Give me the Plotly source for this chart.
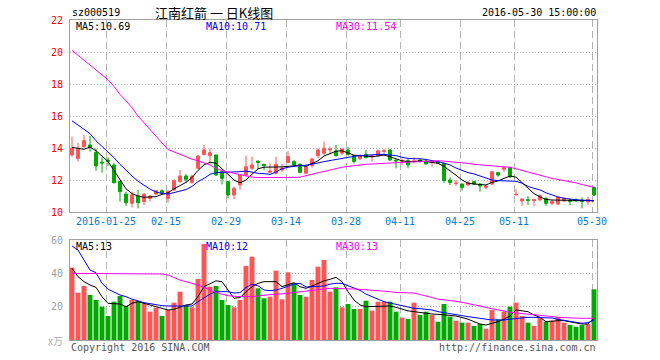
import plotly.graph_objects as go

# ---------------- data ----------------
dates = [
    "2016-01-15", "2016-01-18", "2016-01-19", "2016-01-20", "2016-01-21", "2016-01-22",
    "2016-01-25", "2016-01-26", "2016-01-27", "2016-01-28", "2016-01-29",
    "2016-02-01", "2016-02-02", "2016-02-03", "2016-02-04", "2016-02-05",
    "2016-02-15", "2016-02-16", "2016-02-17", "2016-02-18", "2016-02-19",
    "2016-02-22", "2016-02-23", "2016-02-24", "2016-02-25", "2016-02-26", "2016-02-29",
    "2016-03-01", "2016-03-02", "2016-03-03", "2016-03-04",
    "2016-03-07", "2016-03-08", "2016-03-09", "2016-03-10", "2016-03-11",
    "2016-03-14", "2016-03-15", "2016-03-16", "2016-03-17", "2016-03-18",
    "2016-03-21", "2016-03-22", "2016-03-23", "2016-03-24", "2016-03-25",
    "2016-03-28", "2016-03-29", "2016-03-30", "2016-03-31", "2016-04-01",
    "2016-04-05", "2016-04-06", "2016-04-07", "2016-04-08",
    "2016-04-11", "2016-04-12", "2016-04-13", "2016-04-14", "2016-04-15",
    "2016-04-18", "2016-04-19", "2016-04-20", "2016-04-21", "2016-04-22",
    "2016-04-25", "2016-04-26", "2016-04-27", "2016-04-28", "2016-04-29",
    "2016-05-03", "2016-05-04", "2016-05-05", "2016-05-06",
    "2016-05-11", "2016-05-12", "2016-05-13",
    "2016-05-16", "2016-05-17", "2016-05-18", "2016-05-19", "2016-05-20",
    "2016-05-23", "2016-05-24", "2016-05-25", "2016-05-26", "2016-05-27",
    "2016-05-30",
]

opens = [13.56, 13.35, 14.08, 14.19, 13.73, 13.12, 13.25, 12.94, 11.90, 11.12,
         10.54, 11.00, 10.65, 10.85, 11.12, 11.33, 10.85, 11.38, 11.90, 12.25,
         11.85, 12.73, 13.60, 13.52, 13.56, 12.52, 11.90, 11.06, 11.69, 12.31,
         12.73, 13.19, 12.98, 12.48, 12.42, 12.62, 13.10, 13.15, 12.98, 12.42,
         12.90, 13.52, 13.67, 13.88, 13.81, 13.67, 13.88, 13.52, 13.35, 13.60,
         13.44, 13.52, 13.79, 13.88, 13.23, 13.17, 13.21, 13.17, 13.25, 13.19,
         13.10, 13.15, 13.04, 12.00, 11.79, 11.75, 11.69, 11.90, 11.75, 11.54,
         11.75, 12.46, 12.67, 12.77, 11.06, 10.69, 10.77, 10.71, 10.75, 10.85,
         10.54, 10.50, 10.69, 10.75, 10.79, 10.75, 10.65, 11.54]

highs = [14.71, 14.33, 14.81, 14.75, 13.98, 13.42, 13.42, 13.08, 11.96, 11.27,
         11.27, 11.38, 11.17, 11.06, 11.38, 11.42, 11.38, 12.04, 12.62, 12.38,
         12.33, 13.56, 14.19, 13.98, 13.60, 12.56, 11.94, 11.58, 12.35, 13.52,
         13.46, 13.19, 12.98, 13.04, 13.46, 13.00, 13.81, 13.25, 13.04, 12.90,
         13.40, 13.98, 14.40, 14.08, 14.19, 13.98, 14.08, 13.56, 13.60, 13.88,
         13.56, 13.88, 13.94, 13.94, 13.31, 13.35, 13.35, 13.42, 13.29, 13.25,
         13.23, 13.19, 13.08, 12.17, 12.00, 11.79, 11.94, 11.96, 11.79, 11.69,
         12.52, 12.52, 12.83, 12.83, 11.42, 10.85, 11.00, 10.81, 11.10, 10.92,
         10.75, 10.96, 10.90, 10.85, 10.83, 10.92, 10.96, 11.58]

lows = [13.46, 13.15, 13.98, 13.77, 12.58, 12.46, 12.88, 11.79, 10.65, 10.38,
        10.29, 10.23, 10.44, 10.65, 11.06, 11.12, 10.58, 11.33, 11.83, 11.83,
        11.77, 12.67, 13.52, 13.04, 12.27, 11.73, 10.85, 10.81, 11.38, 12.21,
        12.62, 12.67, 12.62, 12.42, 12.35, 12.52, 13.04, 12.83, 12.42, 12.35,
        12.77, 13.35, 13.56, 13.60, 13.46, 13.56, 13.52, 13.04, 13.25, 13.35,
        13.15, 13.46, 13.52, 13.19, 12.73, 12.94, 12.73, 13.04, 13.10, 12.98,
        12.83, 12.98, 11.83, 11.69, 11.62, 11.33, 11.62, 11.70, 11.27, 11.42,
        11.69, 12.20, 12.52, 12.10, 11.06, 10.38, 10.44, 10.38, 10.71, 10.38,
        10.44, 10.44, 10.65, 10.44, 10.62, 10.23, 10.44, 11.00]

closes = [13.98, 13.92, 14.46, 14.08, 12.88, 13.06, 13.17, 11.83, 11.27, 10.58,
          11.06, 10.58, 11.12, 11.00, 11.33, 11.17, 11.27, 11.96, 12.25, 12.04,
          12.23, 13.50, 13.88, 13.71, 12.31, 12.10, 11.06, 11.48, 12.31, 12.83,
          12.94, 13.10, 12.90, 12.56, 12.98, 12.73, 13.46, 12.94, 12.48, 12.83,
          13.31, 13.88, 13.98, 13.92, 13.52, 13.94, 13.60, 13.15, 13.52, 13.40,
          13.52, 13.83, 13.83, 13.25, 13.19, 13.21, 12.94, 13.19, 13.15, 13.00,
          13.17, 13.04, 11.96, 11.85, 11.81, 11.54, 11.83, 11.75, 11.62, 11.62,
          12.52, 12.31, 12.77, 12.21, 11.10, 10.81, 10.73, 10.79, 11.02, 10.54,
          10.65, 10.92, 10.85, 10.65, 10.69, 10.65, 10.79, 11.06]

ma5 = [14.04, 13.98, 13.92, 14.06, 13.83, 13.50, 13.15, 12.60, 12.05, 11.45,
       11.15, 11.00, 10.92, 10.92, 10.96, 11.10, 11.20, 11.45, 11.65, 11.85,
       12.15, 12.60, 12.95, 13.10, 13.05, 12.70, 12.30, 12.00, 11.83, 12.00,
       12.35, 12.70, 12.80, 12.80, 12.80, 12.82, 12.85, 12.90, 12.92, 12.85,
       13.00, 13.20, 13.50, 13.65, 13.80, 13.83, 13.70, 13.55, 13.52, 13.50,
       13.46, 13.50, 13.56, 13.45, 13.30, 13.20, 13.15, 13.15, 13.20, 13.15,
       13.10, 13.05, 12.85, 12.60, 12.30, 12.00, 11.80, 11.75, 11.72, 11.69,
       11.85, 11.94, 12.10, 12.25, 12.18, 11.85, 11.50, 11.15, 10.95, 10.78,
       10.75, 10.75, 10.75, 10.75, 10.74, 10.72, 10.71, 10.69]

ma10 = [15.70, 15.45, 15.15, 14.90, 14.45, 14.10, 13.75, 13.40, 12.98, 12.60,
        12.25, 11.92, 11.65, 11.43, 11.25, 11.16, 11.12, 11.20, 11.30, 11.40,
        11.60, 11.90, 12.10, 12.35, 12.46, 12.47, 12.47, 12.48, 12.52, 12.56,
        12.48, 12.42, 12.40, 12.35, 12.50, 12.70, 12.80, 12.87, 12.90, 12.93,
        12.98, 13.06, 13.15, 13.22, 13.30, 13.38, 13.43, 13.48, 13.52, 13.56,
        13.60, 13.60, 13.60, 13.58, 13.52, 13.42, 13.35, 13.33, 13.33, 13.28,
        13.22, 13.15, 13.05, 12.94, 12.75, 12.60, 12.46, 12.38, 12.25, 12.10,
        12.00, 11.96, 11.95, 11.94, 11.92, 11.80, 11.60, 11.48, 11.38, 11.20,
        11.05, 10.94, 10.86, 10.79, 10.76, 10.74, 10.72, 10.71]

ma30 = [20.10, 19.80, 19.50, 19.20, 18.90, 18.60, 18.27, 17.85, 17.35, 16.95,
        16.52, 16.00, 15.58, 15.15, 14.72, 14.28, 13.90, 13.76, 13.60, 13.45,
        13.30, 13.20, 13.08, 12.94, 12.72, 12.58, 12.50, 12.42, 12.35, 12.25,
        12.18, 12.15, 12.15, 12.15, 12.15, 12.15, 12.15, 12.15, 12.17, 12.27,
        12.38, 12.45, 12.53, 12.62, 12.72, 12.80, 12.85, 12.90, 12.94, 12.98,
        13.00, 13.03, 13.05, 13.06, 13.08, 13.10, 13.12, 13.15, 13.18, 13.20,
        13.20, 13.20, 13.18, 13.15, 13.12, 13.08, 13.04, 12.98, 12.94, 12.90,
        12.87, 12.84, 12.82, 12.80, 12.70, 12.58, 12.48, 12.38, 12.28, 12.20,
        12.10, 12.03, 11.97, 11.90, 11.82, 11.72, 11.62, 11.54]

volumes = [43.4, 28.4, 32.4, 27.0, 24.0, 20.0, 14.4, 23.0, 26.4, 20.4,
           24.0, 23.4, 22.0, 17.0, 19.4, 14.4, 18.0, 22.4, 29.0, 21.0,
           19.6, 36.6, 57.6, 32.0, 32.4, 24.0, 21.0, 19.6, 24.0, 44.4,
           50.0, 31.0, 25.0, 26.0, 41.6, 24.4, 40.6, 34.0, 27.0, 26.0,
           36.0, 44.0, 48.0, 29.0, 31.6, 19.6, 21.6, 18.6, 18.6, 23.6,
           17.6, 23.0, 23.0, 23.0, 17.0, 13.4, 12.6, 22.4, 15.0, 17.0,
           15.0, 11.0, 21.6, 14.0, 11.6, 10.4, 10.4, 8.4, 9.6, 6.8,
           18.0, 12.4, 17.0, 20.0, 22.4, 14.4, 10.4, 8.4, 13.6, 11.0,
           11.6, 13.6, 10.4, 9.0, 8.0, 9.0, 9.6, 30.4]

vma5 = [43.0, 38.0, 35.0, 33.0, 31.6, 26.0, 22.0, 21.6, 21.6, 20.0,
        22.0, 23.0, 22.0, 20.8, 20.2, 19.0, 18.0, 18.4, 19.6, 21.0,
        21.6, 26.0, 32.0, 34.0, 35.5, 35.0, 30.0, 25.0, 25.5, 29.0,
        32.0, 34.0, 35.0, 35.0, 35.0, 32.0, 33.0, 34.4, 32.0, 31.0,
        32.4, 34.0, 35.5, 36.4, 37.6, 35.0, 29.0, 24.0, 21.0, 20.0,
        20.0, 20.4, 20.4, 20.4, 19.6, 18.6, 17.5, 17.0, 16.4, 16.0,
        15.6, 15.4, 15.0, 14.8, 14.4, 13.5, 12.5, 11.0, 9.6, 9.0,
        10.0, 11.0, 12.5, 14.4, 18.0, 17.5, 17.0, 15.0, 13.6, 11.0,
        11.4, 11.6, 11.6, 11.0, 10.0, 9.6, 9.6, 13.0]

vma10 = [56.4, 54.0, 48.0, 42.0, 40.4, 34.0, 30.5, 28.5, 27.0, 26.0,
         24.5, 23.5, 22.4, 21.8, 21.0, 20.6, 20.4, 20.4, 20.4, 20.4,
         20.4, 23.0, 25.5, 27.5, 29.0, 29.0, 29.0, 28.2, 28.4, 31.5,
         33.5, 32.5, 30.0, 29.6, 30.0, 31.0, 32.5, 33.6, 34.0, 31.8,
         32.0, 32.2, 32.4, 33.5, 34.0, 34.0, 32.5, 31.0, 29.8, 27.5,
         26.0, 24.5, 23.0, 22.2, 21.3, 20.5, 19.5, 19.0, 18.8, 18.4,
         18.0, 17.0, 16.5, 15.8, 15.2, 14.6, 14.0, 13.5, 13.0, 12.5,
         12.0, 12.0, 12.0, 12.5, 13.0, 13.3, 13.6, 13.6, 13.6, 13.6,
         13.2, 12.4, 11.8, 11.0, 10.6, 10.0, 10.4, 12.0]

vma30 = [40.0, 40.0, 40.0, 40.0, 40.0, 40.0, 39.8, 39.8, 39.8, 39.8,
         39.8, 39.8, 39.8, 39.8, 39.8, 39.6, 39.0, 37.5, 36.0, 35.0,
         34.0, 33.0, 31.5, 30.0, 28.5, 27.5, 26.6, 26.2, 26.0, 26.0,
         26.0, 26.4, 27.0, 27.2, 27.4, 27.6, 28.0, 28.5, 29.0, 29.4,
         30.0, 30.3, 30.6, 31.0, 31.0, 31.0, 30.8, 30.6, 30.4, 30.2,
         30.0, 29.7, 29.4, 29.0, 28.5, 28.2, 28.3, 28.2, 27.4, 26.4,
         25.5, 24.5, 24.2, 23.8, 23.2, 22.6, 22.0, 21.0, 20.4, 19.5,
         18.7, 18.0, 17.0, 16.6, 16.2, 15.9, 15.6, 15.3, 14.9, 14.4,
         14.1, 13.6, 13.4, 13.1, 13.0, 13.0, 13.0, 13.0]

tick_dates = ["2016-01-25", "2016-02-15", "2016-02-29", "2016-03-14", "2016-03-28",
              "2016-04-11", "2016-04-25", "2016-05-11", "2016-05-30"]
tick_text = ["2016-01-25", "02-15", "02-29", "03-14", "03-28",
             "04-11", "04-25", "05-11", "05-30"]
price_ticks = [10, 12, 14, 16, 18, 20, 22]
volume_ticks = [20, 40, 60]

stock_code = "sz000519"
title_text = "江南红箭 一 日K线图"
time_text = "15:00:00"

# ---------------- styling ----------------
UP, DOWN = "#ff5555", "#00a800"
GRID = "#b4b4b4"
BORDER = "#a0a0a0"
MONO = "DejaVu Sans Mono"
CJK = "Noto Sans CJK SC"

idx = list(range(len(dates)))
vol_colors = [UP if c >= o else DOWN for o, c in zip(opens, closes)]
tickvals = [dates.index(d) - 0.33 for d in tick_dates]

# pixel geometry of the plotting area
PX_L, PX_R, PX_T, PX_B = 70, 597, 20, 340


def px(x):
    return (x - PX_L) / (PX_R - PX_L)


def py(y):
    return (PX_B - y) / (PX_B - PX_T)


fig = go.Figure()

fig.add_trace(go.Bar(x=idx, y=volumes, width=0.82,
                     marker=dict(color=vol_colors, line=dict(width=0)),
                     xaxis="x2", yaxis="y2"))
for arr, col in [(vma5, "#000000"), (vma10, "#0000ff"), (vma30, "#ff00ff")]:
    fig.add_trace(go.Scatter(x=idx, y=arr, mode="lines",
                             line=dict(color=col, width=1),
                             xaxis="x2", yaxis="y2"))

fig.add_trace(go.Candlestick(
    x=idx, open=opens, high=highs, low=lows, close=closes,
    increasing=dict(line=dict(color=UP, width=1), fillcolor=UP),
    decreasing=dict(line=dict(color=DOWN, width=1), fillcolor=DOWN),
    whiskerwidth=0, xaxis="x", yaxis="y"))
for arr, col in [(ma5, "#000000"), (ma10, "#0000ff"), (ma30, "#ff00ff")]:
    fig.add_trace(go.Scatter(x=idx, y=arr, mode="lines",
                             line=dict(color=col, width=1),
                             xaxis="x", yaxis="y"))

xrange = [-0.333, len(dates) - 0.5]
common_x = dict(range=xrange, tickmode="array", tickvals=tickvals,
                showgrid=True, gridcolor=GRID, gridwidth=1, griddash="7px,4px",
                showline=True, linecolor=BORDER, linewidth=1, mirror=True,
                ticks="", zeroline=False)
common_y = dict(showgrid=True, gridcolor=GRID, gridwidth=1, griddash="1px,2px",
                showline=True, linecolor=BORDER, linewidth=1, mirror=True,
                ticks="", zeroline=False, ticklabelstandoff=4)

fig.update_layout(
    width=660, height=360,
    margin=dict(l=PX_L, r=660 - PX_R, t=PX_T, b=360 - PX_B),
    paper_bgcolor="white", plot_bgcolor="white",
    showlegend=False, hovermode=False,
    font=dict(family=MONO, size=10, color="#000000"),
    xaxis=dict(domain=[0, 1], anchor="y", ticktext=tick_text,
               tickfont=dict(color="#0a78cc", size=10),
               rangeslider=dict(visible=False), **common_x),
    xaxis2=dict(domain=[0, 1], anchor="y2", showticklabels=False, **common_x),
    yaxis=dict(domain=[py(212), 1], range=[10, 22], tickmode="array",
               tickvals=price_ticks, tickfont=dict(color="#ff0000", size=10),
               **common_y),
    yaxis2=dict(domain=[0, py(240)], range=[0, 60], tickmode="array",
                tickvals=volume_ticks, tickfont=dict(color="#a0a0a0", size=10),
                **common_y),
)


def note(text, x, y, anchor="left", color="#000000", size=10, family=MONO):
    fig.add_annotation(text=text, x=px(x), y=py(y), xref="paper", yref="paper",
                       xanchor=anchor, yanchor="middle", showarrow=False,
                       font=dict(family=family, size=size, color=color))


note(stock_code, 70, 13)
note(title_text, 214, 13, anchor="center", size=13, family=CJK)
note(f"{dates[-1]} {time_text}", 598, 13, anchor="right")

note(f"MA5:{ma5[-1]:.2f}", 74, 26, color="#000000")
note(f"MA10:{ma10[-1]:.2f}", 204, 26, color="#0000ff")
note(f"MA30:{ma30[-1]:.2f}", 334, 26, color="#ff00ff")

note(f"MA5:{round(vma5[-1])}", 74, 246, color="#000000")
note(f"MA10:{round(vma10[-1])}", 204, 246, color="#0000ff")
note(f"MA30:{round(vma30[-1])}", 334, 246, color="#ff00ff")

note("x万", 65, 340, anchor="right", color="#b0b0b0", family=CJK)
note("Copyright 2016 SINA.COM", 69, 347, color="#555555")
note("http://finance.sina.com.cn", 598, 347, anchor="right", color="#555555")

fig.write_html(
    "out.html",
    config={"displayModeBar": False, "staticPlot": True},
    post_script="document.body.style.margin='0';document.body.style.padding='0';"
                "document.documentElement.style.overflow='hidden';",
)
